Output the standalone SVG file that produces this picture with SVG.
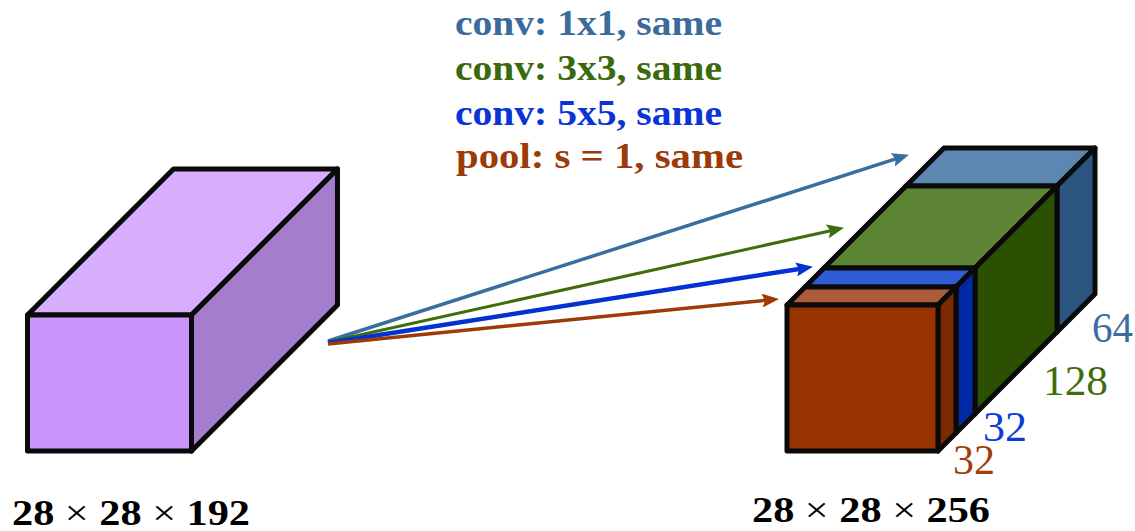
<svg xmlns="http://www.w3.org/2000/svg" width="1135" height="531" viewBox="0 0 1135 531">
<style>
.face{stroke:#0A0A0A;stroke-width:5;stroke-linejoin:round}
.lbl{font-family:"Liberation Serif",serif;font-weight:bold;font-size:36px}
.num{font-family:"Liberation Serif",serif;font-size:43px}
.thin{font-weight:normal}
.con{fill:none;stroke-linecap:butt}
</style>
<defs>
<marker id="hSteel" markerUnits="userSpaceOnUse" viewBox="0 0 17 14" refX="8" refY="7" markerWidth="17" markerHeight="14" orient="auto"><path d="M0,0 L17,7 L0,14 L3,7 z" fill="#3A6EA0"/></marker>
<marker id="hGreen" markerUnits="userSpaceOnUse" viewBox="0 0 17 14" refX="8" refY="7" markerWidth="17" markerHeight="14" orient="auto"><path d="M0,0 L17,7 L0,14 L3,7 z" fill="#3E6E0C"/></marker>
<marker id="hBlue" markerUnits="userSpaceOnUse" viewBox="0 0 17 14" refX="8" refY="7" markerWidth="17" markerHeight="14" orient="auto"><path d="M0,0 L17,7 L0,14 L3,7 z" fill="#0432D2"/></marker>
<marker id="hOrange" markerUnits="userSpaceOnUse" viewBox="0 0 17 14" refX="8" refY="7" markerWidth="17" markerHeight="14" orient="auto"><path d="M0,0 L17,7 L0,14 L3,7 z" fill="#9E3A06"/></marker>
</defs>

<g id="input-volume">
<polygon class="face" fill="#D7ADFE" points="27.5,315 173.5,169 337.5,169 191.5,315"/>
<polygon class="face" fill="#A47DCC" points="191.5,315 337.5,169 337.5,305 191.5,451"/>
<rect class="face" fill="#C896FA" x="27.5" y="315" width="164" height="136"/>
</g>

<g id="output-volume">
<g id="slab-1x1">
<polygon class="face" fill="#5C87B0" points="906,186 944,148 1095,148 1057,186"/>
<polygon class="face" fill="#2C5680" points="1057,186 1095,148 1095,294 1057,332"/>
</g>
<g id="slab-3x3">
<polygon class="face" fill="#5E8535" points="824,268 906,186 1057,186 975,268"/>
<polygon class="face" fill="#2B5000" points="975,268 1057,186 1057,332 975,414"/>
</g>
<g id="slab-5x5">
<polygon class="face" fill="#305CD6" points="805,287 824,268 975,268 956,287"/>
<polygon class="face" fill="#0029A5" points="956,287 975,268 975,414 956,433"/>
</g>
<g id="slab-pool">
<polygon class="face" fill="#AD5C37" points="787,305 805,287 956,287 938,305"/>
<polygon class="face" fill="#7A2900" points="938,305 956,287 956,433 938,451"/>
<rect class="face" fill="#983300" x="787" y="305" width="151" height="146"/>
</g>
</g>

<g id="connectors">
<line class="con" x1="328" y1="341" x2="900.4" y2="157.4" stroke="#3A6EA0" stroke-width="3.5" marker-end="url(#hSteel)"/>
<line class="con" x1="328" y1="342" x2="835.2" y2="229.7" stroke="#3E6E0C" stroke-width="3" marker-end="url(#hGreen)"/>
<line class="con" x1="328" y1="343" x2="804.1" y2="268.2" stroke="#0432D2" stroke-width="4.5" marker-end="url(#hBlue)"/>
<line class="con" x1="328" y1="344" x2="770" y2="299.8" stroke="#9E3A06" stroke-width="3.5" marker-end="url(#hOrange)"/>
</g>

<g id="labels">
<text class="lbl" x="455" y="35" fill="#3A6B9C" textLength="267" lengthAdjust="spacingAndGlyphs">conv: 1x1, same</text>
<text class="lbl" x="455" y="80" fill="#3A6A0C" textLength="267" lengthAdjust="spacingAndGlyphs">conv: 3x3, same</text>
<text class="lbl" x="455" y="125" fill="#0A34D6" textLength="267" lengthAdjust="spacingAndGlyphs">conv: 5x5, same</text>
<text class="lbl" x="456" y="168" fill="#9C3A08" textLength="287" lengthAdjust="spacingAndGlyphs">pool: s = 1, same</text>
<text class="lbl" x="12" y="525" fill="#000" textLength="238" lengthAdjust="spacingAndGlyphs">28 <tspan class="thin">×</tspan> 28 <tspan class="thin">×</tspan> 192</text>
<text class="lbl" x="752" y="522" fill="#000" textLength="238" lengthAdjust="spacingAndGlyphs">28 <tspan class="thin">×</tspan> 28 <tspan class="thin">×</tspan> 256</text>
<text class="num" x="1092" y="342" fill="#3A6EA0" textLength="41" lengthAdjust="spacingAndGlyphs">64</text>
<text class="num" x="1043" y="395" fill="#3E6E0C" textLength="65" lengthAdjust="spacingAndGlyphs">128</text>
<text class="num" x="983" y="441" fill="#0B3BD8" textLength="44" lengthAdjust="spacingAndGlyphs">32</text>
<text class="num" x="953" y="474" fill="#A03E08" textLength="42" lengthAdjust="spacingAndGlyphs">32</text>
</g>
</svg>
